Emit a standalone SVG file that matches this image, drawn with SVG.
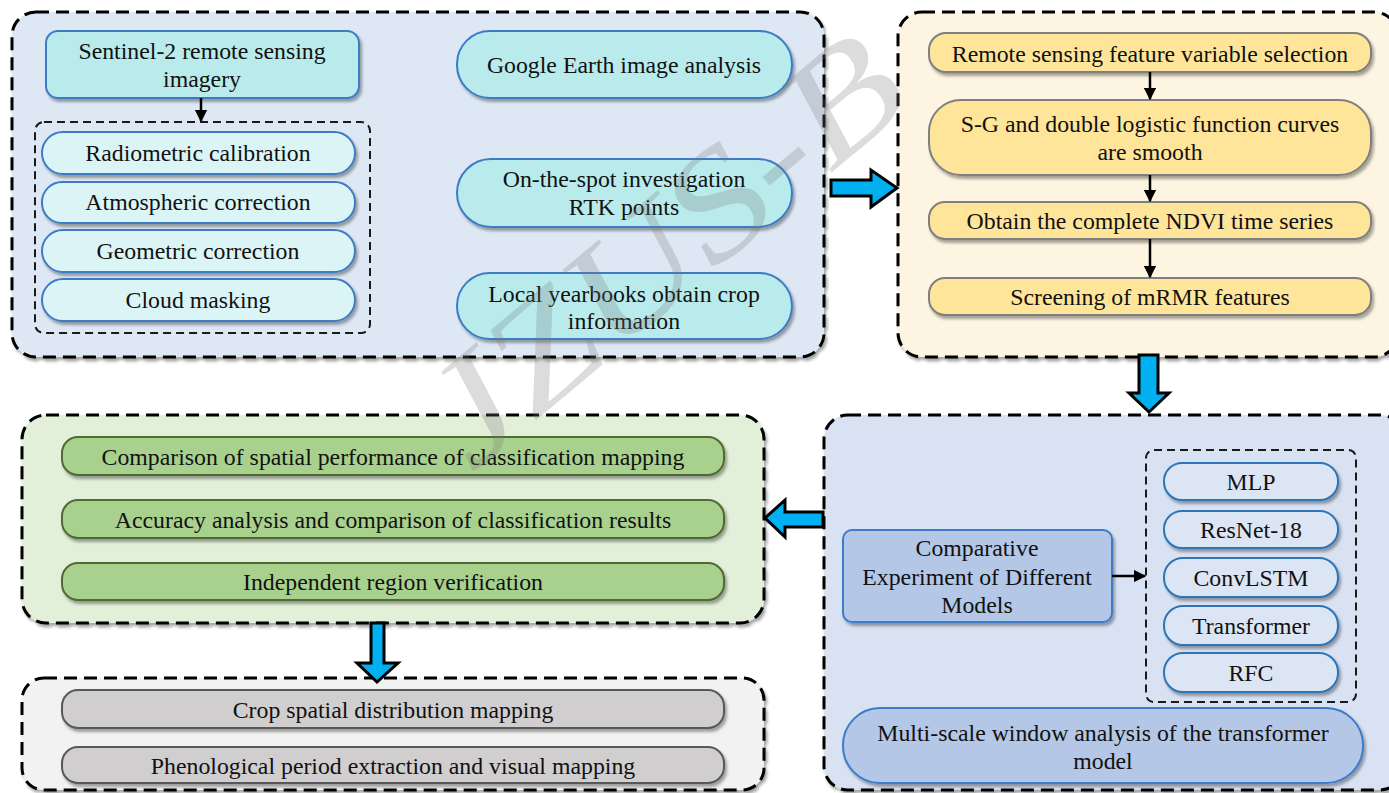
<svg xmlns="http://www.w3.org/2000/svg" width="1389" height="793" viewBox="0 0 1389 793">
<defs>
<filter id="sh" x="-10%" y="-20%" width="120%" height="150%">
<feDropShadow dx="2" dy="3" stdDeviation="1.8" flood-color="#000" flood-opacity="0.35"/>
</filter>
<marker id="ah" viewBox="0 0 10 10" refX="9" refY="5" markerWidth="5" markerHeight="5" orient="auto" markerUnits="strokeWidth">
<path d="M0,0 L10,5 L0,10 z" fill="#000"/>
</marker>
<style>
.panel{stroke:#000;stroke-width:3;stroke-dasharray:13 7;filter:url(#sh)}
.inner{fill:none;stroke:#1a1a1a;stroke-width:2;stroke-dasharray:8 5}
.cy{fill:#b9ebed;stroke:#3d7cc4;stroke-width:2;filter:url(#sh)}
.lcy{fill:#dbf5f7;stroke:#3d7cc4;stroke-width:2;filter:url(#sh)}
.ye{fill:#ffe59a;stroke:#7f7f7f;stroke-width:2;filter:url(#sh)}
.gr{fill:#a9d18e;stroke:#4f6b33;stroke-width:2;filter:url(#sh)}
.gy{fill:#d0cece;stroke:#595959;stroke-width:2;filter:url(#sh)}
.bl{fill:#b4c7e7;stroke:#3d7cc9;stroke-width:2;filter:url(#sh)}
.md{fill:#dce5f4;stroke:#2e75b6;stroke-width:2;filter:url(#sh)}
text{font-family:"Liberation Serif","Times New Roman",serif;font-size:23.8px;fill:#111;text-anchor:middle}
.big{fill:#00b0f0;stroke:#000;stroke-width:3;stroke-linejoin:miter}
.sm{stroke:#000;stroke-width:2.5;fill:none;marker-end:url(#ah)}
.wm{font-size:150px;font-style:italic;fill:#7a7a7a;text-anchor:start}
</style>
</defs>
<rect width="1389" height="793" fill="#fff"/>

<!-- Panels -->
<g id="panel-data">
<rect class="panel" x="12" y="12" width="812" height="345" rx="24" fill="#dee8f4"/>
</g>
<g id="panel-features">
<rect class="panel" x="898" y="12" width="500" height="345" rx="24" fill="#fdf5e2"/>
</g>
<g id="panel-evaluation">
<rect class="panel" x="22" y="415" width="742" height="208" rx="24" fill="#e2efd9"/>
</g>
<g id="panel-models">
<rect class="panel" x="824" y="415" width="580" height="375" rx="24" fill="#d9e2f3"/>
</g>
<g id="panel-output">
<rect class="panel" x="22" y="678" width="742" height="112" rx="22" fill="#f2f2f2"/>
</g>

<!-- Panel 1 nodes -->
<g id="n-sentinel">
<rect class="cy" x="46" y="31" width="313" height="67" rx="12"/>
<text x="202" y="59">Sentinel-2 remote sensing</text>
<text x="202" y="87">imagery</text>
</g>
<g id="g-preprocess">
<rect class="inner" x="35" y="122" width="335" height="211" rx="9"/>
</g>
<g id="n-radiometric">
<rect class="lcy" x="42" y="132" width="313" height="42" rx="21"/>
<text x="198" y="161">Radiometric calibration</text>
</g>
<g id="n-atmospheric">
<rect class="lcy" x="42" y="182" width="313" height="41" rx="20"/>
<text x="198" y="210">Atmospheric correction</text>
</g>
<g id="n-geometric">
<rect class="lcy" x="42" y="230" width="313" height="42" rx="21"/>
<text x="198" y="259">Geometric correction</text>
</g>
<g id="n-cloud">
<rect class="lcy" x="42" y="279" width="313" height="42" rx="21"/>
<text x="198" y="308">Cloud masking</text>
</g>
<g id="n-google">
<rect class="cy" x="457" y="31" width="335" height="67" rx="33"/>
<text x="624" y="73">Google Earth image analysis</text>
</g>
<g id="n-spot">
<rect class="cy" x="457" y="159" width="335" height="68" rx="34"/>
<text x="624" y="187">On-the-spot investigation</text>
<text x="624" y="215">RTK points</text>
</g>
<g id="n-yearbooks">
<rect class="cy" x="457" y="273" width="335" height="66" rx="33"/>
<text x="624" y="302">Local yearbooks obtain crop</text>
<text x="624" y="329">information</text>
</g>

<!-- Panel 2 nodes -->
<g id="n-select">
<rect class="ye" x="929" y="33" width="442" height="39" rx="17"/>
<text x="1150" y="62">Remote sensing feature variable selection</text>
</g>
<g id="n-smooth">
<rect class="ye" x="929" y="100" width="442" height="75" rx="32"/>
<text x="1150" y="132">S-G and double logistic function curves</text>
<text x="1150" y="160">are smooth</text>
</g>
<g id="n-ndvi">
<rect class="ye" x="929" y="202" width="442" height="37" rx="16"/>
<text x="1150" y="229">Obtain the complete NDVI time series</text>
</g>
<g id="n-mrmr">
<rect class="ye" x="929" y="278" width="442" height="37" rx="16"/>
<text x="1150" y="305">Screening of mRMR features</text>
</g>

<!-- Panel 3 nodes -->
<g id="n-spatial">
<rect class="gr" x="62" y="437" width="662" height="38" rx="16"/>
<text x="393" y="465">Comparison of spatial performance of classification mapping</text>
</g>
<g id="n-accuracy">
<rect class="gr" x="62" y="500" width="662" height="38" rx="16"/>
<text x="393" y="528">Accuracy analysis and comparison of classification results</text>
</g>
<g id="n-independent">
<rect class="gr" x="62" y="563" width="662" height="37" rx="16"/>
<text x="393" y="590">Independent region verification</text>
</g>

<!-- Panel 5 nodes -->
<g id="n-cropmap">
<rect class="gy" x="62" y="690" width="662" height="38" rx="16"/>
<text x="393" y="718">Crop spatial distribution mapping</text>
</g>
<g id="n-phenology">
<rect class="gy" x="62" y="747" width="662" height="36" rx="16"/>
<text x="393" y="774">Phenological period extraction and visual mapping</text>
</g>

<!-- Panel 4 nodes -->
<g id="n-compare">
<rect class="bl" x="843" y="530" width="269" height="92" rx="9"/>
<text x="977" y="556">Comparative</text>
<text x="977" y="585">Experiment of Different</text>
<text x="977" y="613">Models</text>
</g>
<g id="g-models">
<rect class="inner" x="1146" y="450" width="210" height="252" rx="8"/>
</g>
<g id="n-mlp">
<rect class="md" x="1164" y="463" width="174" height="37" rx="18"/>
<text x="1251" y="490">MLP</text>
</g>
<g id="n-resnet">
<rect class="md" x="1164" y="511" width="174" height="37" rx="18"/>
<text x="1251" y="538">ResNet-18</text>
</g>
<g id="n-convlstm">
<rect class="md" x="1164" y="558" width="174" height="39" rx="19"/>
<text x="1251" y="586">ConvLSTM</text>
</g>
<g id="n-transformer">
<rect class="md" x="1164" y="606" width="174" height="39" rx="19"/>
<text x="1251" y="634">Transformer</text>
</g>
<g id="n-rfc">
<rect class="md" x="1164" y="653" width="174" height="39" rx="19"/>
<text x="1251" y="681">RFC</text>
</g>
<g id="n-multiscale">
<rect class="bl" x="843" y="708" width="520" height="75" rx="37"/>
<text x="1103" y="741">Multi-scale window analysis of the transformer</text>
<text x="1103" y="769">model</text>
</g>

<!-- Connectors -->
<g id="connectors">
<line class="sm" x1="201" y1="98" x2="201" y2="121"/>
<line class="sm" x1="1150" y1="72" x2="1150" y2="99"/>
<line class="sm" x1="1150" y1="175" x2="1150" y2="201"/>
<line class="sm" x1="1150" y1="239" x2="1150" y2="277"/>
<line class="sm" x1="1112" y1="576" x2="1145" y2="576"/>
<path class="big" d="M831,180 L871,180 L871,170 L897,188 L871,207 L871,196 L831,196 Z"/>
<path class="big" d="M1139,355 L1158,355 L1158,393 L1169,393 L1149,412 L1129,393 L1139,393 Z"/>
<path class="big" d="M823,512 L785,512 L785,500 L765,518 L785,537 L785,527 L823,527 Z"/>
<path class="big" d="M371,623 L384,623 L384,663 L398,663 L377,682 L357,663 L371,663 Z"/>
</g>

<!-- Watermark -->
<g id="watermark" opacity="0.26">
<text class="wm" x="0" y="0" transform="translate(472,474) rotate(-40) scale(1.22,1)">JZUS-B</text>
</g>
</svg>
